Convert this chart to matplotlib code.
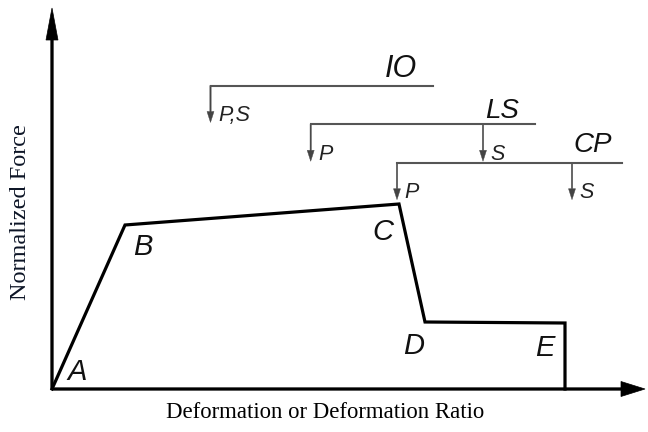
import matplotlib
matplotlib.use("Agg")
import matplotlib.pyplot as plt

# backbone curve (origin at axis corner, units ~ pixels of the sketch)
curve_x = [0, 73, 347, 373, 513, 513]
curve_y = [0, 164, 185, 67, 66, 0]
point_names = ["A", "B", "C", "D", "E"]

# performance levels: horizontal bar with arrows pointing down
levels = ["IO", "LS", "CP"]
level_y = [303.5, 264.7, 226.3]
level_x0 = [158.5, 258.7, 345]
level_x1 = [381, 483, 570]
arrow_x = [[158.5], [258.7, 431], [345, 520]]
arrow_txt = [["P,S"], ["P", "S"], ["P", "S"]]

x_label = "Deformation or Deformation Ratio"
y_label = "Normalized Force"

# layout (text offsets)
name_off = [(15, 9), (8, -30), (-27, -36), (-22, -32), (-30, -33)]
level_lbl_x = [333, 433, 521]
level_lbl_dy = [8.5, 6.3, 10.7]

fig = plt.figure(figsize=(6.48, 4.32), dpi=100)
ax = fig.add_axes([0, 0, 1, 1])
ax.set_xlim(-52, 596)
ax.set_ylim(-43, 389)
ax.axis("off")

sans_it = dict(family="Liberation Sans", style="italic")

# axes with arrow heads
ax.arrow(0, 0, 593, 0, width=2.4, head_width=15, head_length=24,
         length_includes_head=True, fc="black", ec="black", lw=0.5)
ax.arrow(0, 0, 0, 381, width=2.4, head_width=12, head_length=32,
         length_includes_head=True, fc="black", ec="black", lw=0.5)

# backbone curve
ax.plot(curve_x, curve_y, color="black", lw=2.3, solid_joinstyle="miter")

for i, name in enumerate(point_names):
    dx, dy = name_off[i]
    ax.text(curve_x[i] + dx, curve_y[i] + dy, name, fontsize=21,
            ha="left", va="baseline", color="#111111", **sans_it)

# performance level bars
gray = "#555555"
for i, lev in enumerate(levels):
    y = level_y[i]
    ax.plot([level_x0[i], level_x1[i]], [y, y], color=gray, lw=1.5)
    for xa, t in zip(arrow_x[i], arrow_txt[i]):
        ax.arrow(xa, y, 0, -37, width=1.3, head_width=7, head_length=11,
                 length_includes_head=True, fc="#444444", ec="#444444", lw=0.3)
        ax.text(xa + 7.5, y - 35.5, t, fontsize=15.5, ha="left", va="baseline",
                color="#222222", **sans_it)
    ax.text(level_lbl_x[i], y + level_lbl_dy[i], lev,
            fontsize=22 if lev == "IO" else 20, ha="left", va="baseline",
            color="#111111", **sans_it)

ax.text(273, -23, x_label, fontsize=16.4, family="Liberation Serif",
        ha="center", va="center", color="black")
ax.text(-31, 177, y_label, fontsize=17.5, family="Liberation Serif",
        rotation=90, ha="center", va="center", color="#0d1526")

fig.savefig("out.png", dpi=100)
